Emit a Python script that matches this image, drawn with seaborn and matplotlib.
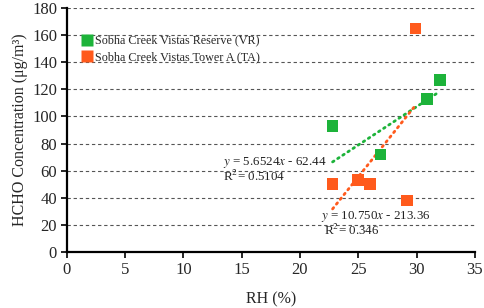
import numpy as np
import pandas as pd
import seaborn as sns
import matplotlib.pyplot as plt

# data
VR_LABEL = "Sobha Creek Vistas Reserve (VR)"
TA_LABEL = "Sobha Creek Vistas Tower A (TA)"
vr_rh = [22.8, 26.9, 30.9, 32.0]
vr_hcho = [93, 72, 113, 127]
ta_rh = [22.8, 25.0, 26.0, 29.2, 29.9]
ta_hcho = [50, 53, 50, 38, 165]
vr_fit = [5.6524, -62.44]
ta_fit = [10.750, -213.36]

GREEN = "#1db33a"
ORANGE = "#ff5a1c"

df = pd.DataFrame({
    "RH": vr_rh + ta_rh,
    "HCHO": vr_hcho + ta_hcho,
    "Site": [VR_LABEL] * len(vr_rh) + [TA_LABEL] * len(ta_rh),
})

sns.set_style("white")
plt.rcParams["font.family"] = ["Liberation Serif", "DejaVu Serif"]
plt.rcParams["mathtext.fontset"] = "stix"

fig = plt.figure(figsize=(4.84, 3.08), dpi=100)
ax = fig.add_axes([0.138, 0.182, 0.843, 0.792])

# dashed horizontal grid
for yv in range(20, 181, 20):
    ax.axhline(yv, color="#555555", lw=0.8, ls=(0, (3, 2.5)), zorder=0)

# trendlines
for xs, fit, col in [(vr_rh, vr_fit, GREEN), (ta_rh, ta_fit, ORANGE)]:
    xx = np.array([min(xs), max(xs)])
    ax.plot(xx, fit[0] * xx + fit[1], color=col, lw=2, ls=(0, (0.6, 1.6)),
            dash_capstyle="round", zorder=2)

sns.scatterplot(data=df, x="RH", y="HCHO", hue="Site", marker="s", s=70,
                palette=[GREEN, ORANGE], edgecolor="none", ax=ax, zorder=3)

ax.set_xlim(0, 35)
ax.set_ylim(0, 180)
ax.set_xticks(range(0, 36, 5))
ax.set_yticks(range(0, 181, 20))
ax.tick_params(labelsize=12, direction="out", length=4, width=1.2, color="black",
               bottom=True, left=True, pad=3)
for s in ["top", "right"]:
    ax.spines[s].set_visible(False)
for s in ["left", "bottom"]:
    ax.spines[s].set_color("black")
    ax.spines[s].set_linewidth(1.6)

ax.set_xlabel("RH (%)", fontsize=11.5, labelpad=10)
ax.set_ylabel("HCHO Concentration (μg/m³)", fontsize=11.5, labelpad=3)

eq = dict(fontsize=9.4, color="#222222", va="center")
ax.text(13.4, 66, r"$y$ = 5.6524$x$ - 62.44", **eq)
ax.text(13.4, 55.5, "R$^2$= 0.5104", **eq)
ax.text(21.8, 26, r"$y$ = 10.750$x$ - 213.36", **eq)
ax.text(22.1, 15.5, "R$^2$= 0.346", **eq)

ax.legend(loc="upper left", bbox_to_anchor=(0.02, 0.915), frameon=False,
          fontsize=8.7, handletextpad=0.2, labelspacing=0.35, borderpad=0,
          markerscale=1.0, handlelength=1.0)

fig.savefig("out.png", dpi=100)
